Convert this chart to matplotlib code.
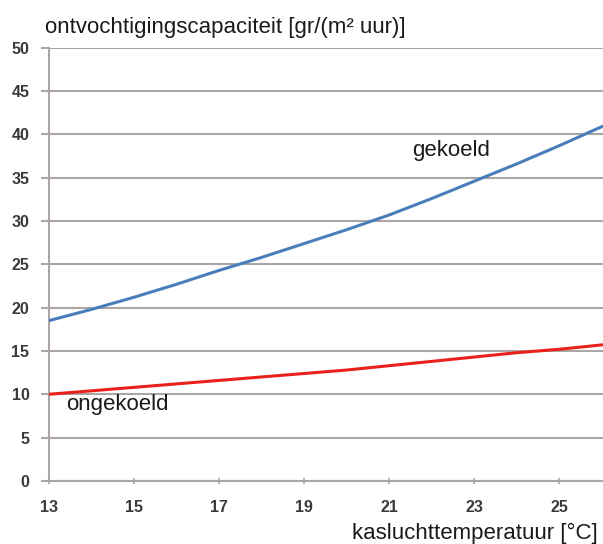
import numpy as np
import matplotlib.pyplot as plt

plt.rcParams['font.family'] = ['Liberation Sans', 'DejaVu Sans']

# kasluchttemperatuur [°C]
temp = [13, 14, 15, 16, 17, 18, 19, 20, 21, 22, 23, 24, 25, 26]
# ontvochtigingscapaciteit [gr/(m2 uur)]
gekoeld = [18.5, 19.8, 21.2, 22.7, 24.3, 25.8, 27.4, 29.0, 30.7, 32.6, 34.6, 36.6, 38.7, 40.9]
ongekoeld = [10.0, 10.4, 10.8, 11.2, 11.6, 12.0, 12.4, 12.8, 13.3, 13.8, 14.3, 14.8, 15.2, 15.7]

xticks = [13, 15, 17, 19, 21, 23, 25]
yticks = [0, 5, 10, 15, 20, 25, 30, 35, 40, 45, 50]

fig = plt.figure(figsize=(6.03, 5.44), dpi=100)
ax = fig.add_axes([0.081, 0.116, 0.919, 0.796])

ax.plot(temp, gekoeld, color='#4a7ebb', lw=2.2, zorder=3)
ax.plot(temp, ongekoeld, color='#e8211b', lw=2.2, zorder=3)

ax.set_xlim(13, 26.03)
ax.set_ylim(0, 50)
ax.set_xticks(xticks)
ax.set_yticks(yticks)
ax.grid(axis='y', color='#aba6a4', lw=1.5)
ax.set_axisbelow(True)

for s in ['top', 'right']:
    ax.spines[s].set_visible(False)
ax.spines['left'].set_color('#aba6a4')
ax.spines['bottom'].set_color('#aba6a4')
ax.spines['left'].set_linewidth(1.5)
ax.spines['bottom'].set_linewidth(1.5)

ax.tick_params(axis='y', length=6, color='#aba6a4', width=1.5, pad=8,
               labelsize=11.5, labelcolor='#3a3a3a')
ax.tick_params(axis='x', length=5, direction='inout', color='#aba6a4', width=1.2,
               pad=11, labelsize=11.5, labelcolor='#3a3a3a')
for lbl in ax.get_xticklabels() + ax.get_yticklabels():
    lbl.set_fontweight('bold')

ax.text(21.55, 38.2, 'gekoeld', fontsize=16, color='#1a1a1a', va='center', ha='left')
ax.text(13.4, 8.8, 'ongekoeld', fontsize=16, color='#1a1a1a', va='center', ha='left')

fig.text(0.075, 0.939, 'ontvochtigingscapaciteit [gr/(m² uur)]', fontsize=16,
         color='#1a1a1a', va='baseline', ha='left')
fig.text(0.992, 0.01, 'kasluchttemperatuur [°C]', fontsize=16,
         color='#1a1a1a', va='baseline', ha='right')

fig.savefig('out.png', dpi=100)
